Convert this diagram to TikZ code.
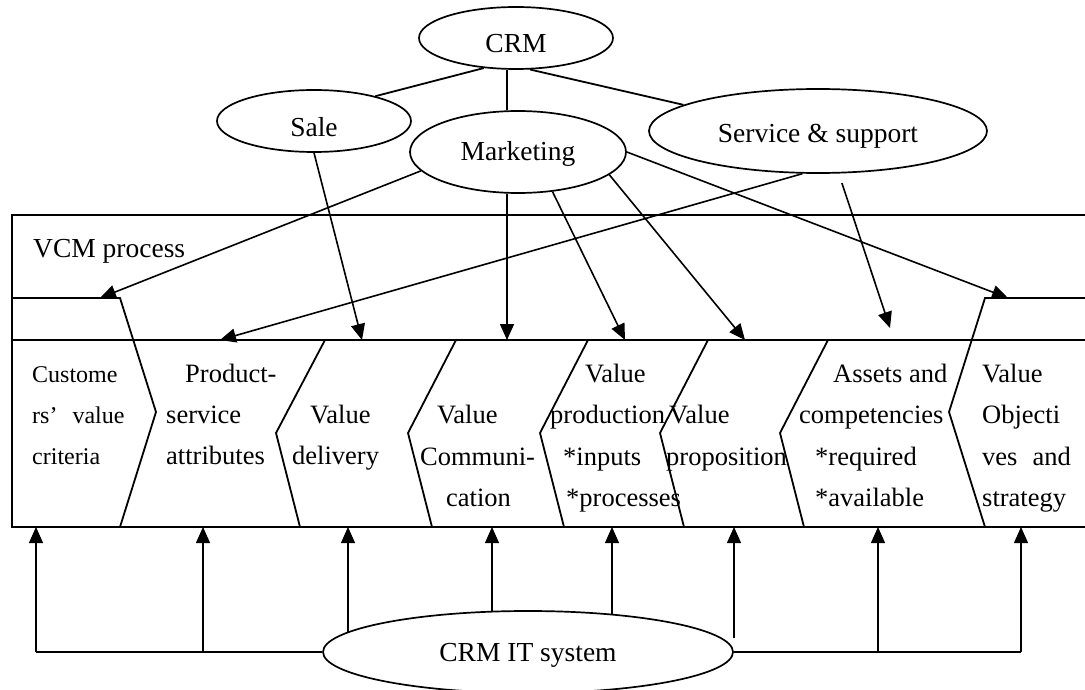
\documentclass[tikz,border=0pt]{standalone}
\usepackage{fontspec}
\setmainfont{Liberation Serif}
\usetikzlibrary{arrows.meta,shapes.geometric}
\begin{document}
\begin{tikzpicture}[x=1pt,y=-1pt,
  ln/.style={line width=1.8pt},
  arr/.style={line width=1.6pt,-{Triangle[length=16pt,width=14pt]}},
  tarr/.style={line width=1.2pt,-{Triangle[length=16pt,width=14pt]}},
  ell/.style={ellipse,draw,line width=1.7pt,inner sep=0pt,text height=18pt,text depth=0pt,font=\fontsize{27.5}{30}\selectfont},
  lbl/.style={anchor=base west,inner sep=0pt,font=\fontsize{26.5}{30}\selectfont},
  slbl/.style={anchor=base west,inner sep=0pt,font=\fontsize{24}{26}\selectfont}]
\useasboundingbox (0,0) rectangle (1085,690);

% VCM box
\draw[ln] (1085,215) -- (12,215) -- (12,527) -- (1085,527);
\draw[ln] (12,340) -- (1085,340);
\draw[ln] (12,298) -- (120,298) -- (156,412) -- (120,527);
\draw[ln] (325,340) -- (276,433) -- (300,527);
\draw[ln] (456,340) -- (408,433) -- (432,527);
\draw[ln] (588,340) -- (540,433) -- (564,527);
\draw[ln] (708,340) -- (660,433) -- (684,527);
\draw[ln] (828,340) -- (780,433) -- (804,527);
\draw[ln] (1085,298) -- (985,298) -- (949,412) -- (985,527);

\node[anchor=base west,inner sep=0pt,font=\fontsize{27.5}{30}\selectfont] (vcm) at (33,257) {VCM process};

% chevron texts
\node[slbl] (c1a) at (32,382) {Custome};
\node[slbl] (c1b) at (32,423) {rs’\hspace{15pt}value};
\node[slbl] (c1c) at (32,464) {criteria};
\node[lbl] (c2a) at (185,382) {Product-};
\node[lbl] (c2b) at (166,423) {service};
\node[lbl] (c2c) at (166,464) {attributes};
\node[lbl] (c3a) at (310,423) {Value};
\node[lbl] (c3b) at (292,464) {delivery};
\node[lbl] (c4a) at (437,423) {Value};
\node[lbl] (c4b) at (420,465) {Communi-};
\node[lbl] (c4c) at (446,506) {cation};
\node[lbl] (c5a) at (585,382) {Value};
\node[lbl] (c5b) at (550,423) {production};
\node[lbl] (c5c) at (563,465) {*inputs};
\node[lbl] (c5d) at (566,506) {*processes};
\node[lbl] (c6a) at (669,423) {Value};
\node[lbl] (c6b) at (666,465) {proposition};
\node[lbl] (c7a) at (833,382) {Assets and};
\node[lbl] (c7b) at (799,423) {competencies};
\node[lbl] (c7c) at (815,465) {*required};
\node[lbl] (c7d) at (815,506) {*available};
\node[lbl] (c8a) at (982,382) {Value};
\node[lbl] (c8b) at (982,423) {Objecti};
\node[lbl] (c8c) at (982,465) {ves\hspace{15pt}and};
\node[lbl] (c8d) at (982,506) {strategy};

% ellipses
\node[ell,minimum width=194pt,minimum height=62pt] (crm) at (516,38) {\raisebox{-6pt}{CRM}};
\node[ell,minimum width=194pt,minimum height=62pt] (sl) at (314,121) {\raisebox{-7pt}{Sale}};
\node[ell,minimum width=216pt,minimum height=82pt] (mk) at (518,152) {Marketing};
\node[ell,minimum width=338pt,minimum height=84pt] (ss) at (818,131) {\raisebox{-2pt}{Service \& support}};
\node[ell,minimum width=410pt,minimum height=82pt] (it) at (528,652) {CRM IT system};

% targets
\coordinate (t1) at (100,298);
\coordinate (t2) at (220,340);
\coordinate (t3) at (362,340);
\coordinate (t4) at (507,340);
\coordinate (t5) at (625,340);
\coordinate (t6) at (745,340);
\coordinate (t7) at (890,328);
\coordinate (t8) at (1008,298);

% top connectors
\draw[ln] (crm.223) -- (sl.22);
\draw[ln] (crm.south -| t4) -- (mk.north -| t4);
\draw[ln] (crm.294) -- (ss.169);
\draw[arr] (mk.191) -- (t1);
\draw[arr] (ss.250) -- (t2);
\draw[arr] (sl.south) -- (t3);
\draw[arr] (mk.south -| t4) -- (t4);
\draw[arr] (mk.311) -- (t5);
\draw[arr] (mk.346) -- (t6);
\draw[arr,shorten <=10pt] (ss.296) -- (t7);
\draw[arr] (mk.east) -- (t8);

% bottom targets
\coordinate (b1) at (36,527);
\coordinate (b2) at (203,527);
\coordinate (b3) at (348,527);
\coordinate (b4) at (492,527);
\coordinate (b5) at (612,527);
\coordinate (b6) at (734,527);
\coordinate (b7) at (878,527);
\coordinate (b8) at (1021,527);

\draw[ln] (it.west) -- (it.west -| b1);
\draw[ln] (it.east) -- (it.east -| b8);
\draw[tarr] (it.west -| b1) -- (b1);
\draw[tarr] (it.west -| b2) -- (b2);
\draw[tarr] (b3 |- it.174) -- (b3);
\draw[tarr] (b4 |- it.132) -- (b4);
\draw[tarr] (b5 |- it.24) -- (b5);
\draw[tarr] (b6 |- it.4) -- (b6);
\draw[tarr] (it.east -| b7) -- (b7);
\draw[tarr] (it.east -| b8) -- (b8);
\end{tikzpicture}
\end{document}
